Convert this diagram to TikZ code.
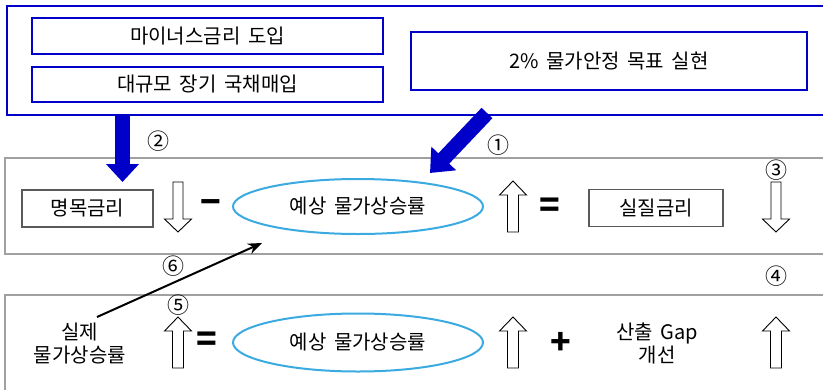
\documentclass[tikz,border=0pt]{standalone}
\usepackage{fontspec}
\setmainfont[WordSpace=1.7]{Noto Sans CJK KR}
\usetikzlibrary{arrows.meta,shapes.geometric}
\definecolor{bblue}{RGB}{0,0,200}
\definecolor{gline}{RGB}{160,160,160}
\definecolor{dgray}{RGB}{90,90,90}
\definecolor{skyb}{RGB}{58,170,225}
\tikzset{
  bluebox/.style={draw=bblue, line width=2pt},
  graybox/.style={draw=gline, line width=1.5pt},
  termbox/.style={draw=dgray, line width=1.8pt, minimum height=37pt, font=\fontsize{20}{23}\selectfont},
  ell/.style={draw=skyb, line width=2pt, ellipse, font=\fontsize{20}{23}\selectfont},
  txt/.style={font=\fontsize{20}{23}\selectfont, align=center},
  num/.style={font=\fontsize{22}{24}\selectfont, inner sep=0pt},
  sym/.style={font=\fontsize{34}{36}\selectfont\bfseries, inner sep=0pt},
  hollow/.style={draw=black, fill=white, line width=0.9pt, line join=miter},
  uparr/.pic={\draw[hollow] (0,0) -- (13.5,14) -- (5.5,14) -- (5.5,51) -- (-5.5,51) -- (-5.5,14) -- (-13.5,14) -- cycle;},
  downarr/.pic={\draw[hollow] (0,0) -- (13.5,-13) -- (5,-13) -- (5,-50) -- (-5,-50) -- (-5,-13) -- (-13.5,-13) -- cycle;},
}
\begin{document}
\begin{tikzpicture}[x=1pt,y=-1pt]
\useasboundingbox (0,0) rectangle (823,389);
\clip (0,0) rectangle (823,389);
% outer blue box
\draw[bluebox, line width=2.5pt] (7,6) rectangle (840,115);
\node[bluebox, minimum width=351pt, minimum height=36pt, txt] (neg) at (207.5,36) {마이너스금리 도입};
\node[bluebox, minimum width=351pt, minimum height=35pt, txt] (jgb) at (207.5,84.5) {대규모 장기 국채매입};
\node[bluebox, minimum width=396pt, minimum height=58pt, txt] (tgt) at (609,61) {2\% 물가안정 목표 실현};
% gray bands
\draw[graybox] (5,158) rectangle (840,254);
\draw[graybox] (5,295) rectangle (840,420);
% big blue arrows
\coordinate (b2s) at (122.5,115);
\coordinate (b2e) at (122.5,182);
\draw[bblue, line width=15pt, -{Triangle[width=32pt,length=18pt]}] (b2s) -- (b2e);
\coordinate (b1s) at (487,113);
\coordinate (b1e) at (430,173);
\draw[bblue, line width=15pt, -{Triangle[width=33pt,length=20pt]}] (b1s) -- (b1e);
\node[num] (n2) at (158,141) {②};
\node[num] (n1) at (498,145) {①};
% row 1
\node[termbox, minimum width=131pt] (nom) at (87.5,208.5) {명목금리};
\pic at (178,232) {downarr};
\node[sym] (minus) at (211,207) {−};
\node[ell, minimum width=250pt, minimum height=55pt] (exp1) at (358,206.5) {예상 물가상승률};
\pic at (513,181) {uparr};
\node[sym] (eq1) at (549.5,208) {=};
\node[termbox, minimum width=134pt] (real) at (656,208) {실질금리};
\pic at (776,232) {downarr};
\node[num] (n3) at (776,170) {③};
\node[num] (n4) at (776,276) {④};
% row 2
\node[txt] (act) at (80,343) {실제\\물가상승률};
\node[num] (n5) at (178,305) {⑤};
\pic at (178,317) {uparr};
\node[sym] (eq2) at (207,342) {=};
\node[ell, minimum width=250pt, minimum height=58pt] (exp2) at (358,342.5) {예상 물가상승률};
\pic at (513,317) {uparr};
\node[sym] (plus) at (561,343) {+};
\node[txt] (gap) at (657,343) {산출 Gap\\개선};
\pic at (776,317) {uparr};
% arrow 6
\node[num] (n6) at (173,266) {⑥};
\coordinate (a6s) at (97,317);
\coordinate (a6e) at (262,243);
\draw[black, line width=2pt, -{Stealth[length=14pt,width=11pt]}] (a6s) -- (a6e);
\end{tikzpicture}
\end{document}
